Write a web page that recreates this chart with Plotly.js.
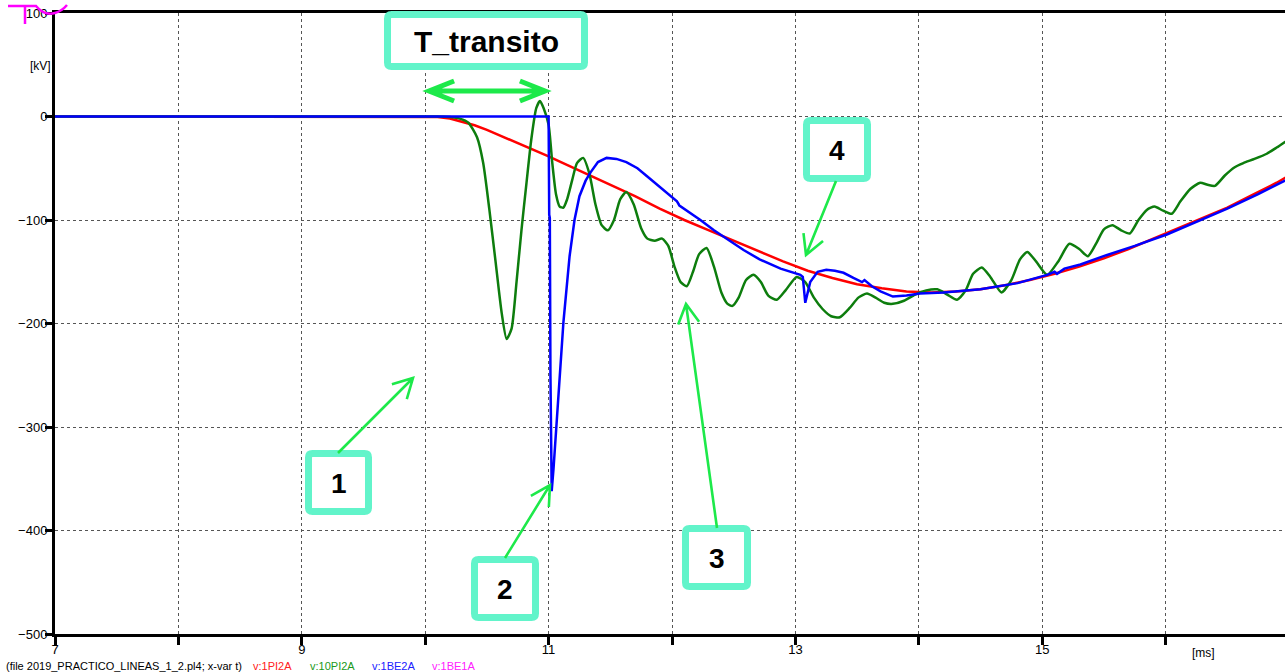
<!DOCTYPE html>
<html>
<head>
<meta charset="utf-8">
<script src="https://cdn.plot.ly/plotly-3.0.1.min.js"></script>
<style>
html,body{margin:0;padding:0;overflow:hidden;background:#fff;}
#chart{width:1292px;height:672px;}
</style>
</head>
<body>
<div id="chart"></div>
<script>
// ---- data (time in ms, voltage in kV) ----
const redT = [7, 10.0, 10.1, 10.2, 10.3, 10.4, 10.5, 10.6, 10.7, 10.8, 10.9, 11.0, 11.1, 11.3, 11.5, 11.7, 11.9, 12.1, 12.3, 12.5, 12.7, 12.9, 13.1, 13.3, 13.5, 13.7, 13.9, 14.1, 14.3, 14.5, 14.7, 14.9, 15.1, 15.3, 15.5, 15.7, 15.9, 16.1, 16.3, 16.5, 16.7, 16.9, 17.0];
const redV = [0, 0, -0.5, -2, -5, -8.5, -13, -18, -23, -28, -33, -38.5, -44, -55, -66, -77, -89, -100, -110, -120, -130, -140, -149, -156, -162, -166, -169, -170, -169, -167, -163, -158, -152, -145, -137, -128, -118, -108, -98, -88, -76, -64, -57];

const greenT = [7, 10.1, 10.2, 10.28, 10.35, 10.42, 10.47, 10.52, 10.57, 10.62, 10.66, 10.70, 10.74, 10.78, 10.82, 10.86, 10.90, 10.93, 10.96, 11.0, 11.03, 11.06, 11.09, 11.12, 11.15, 11.19, 11.23, 11.28, 11.33, 11.38, 11.43, 11.48, 11.53, 11.58, 11.63, 11.69, 11.75, 11.8, 11.86, 11.92, 11.97, 12.02, 12.07, 12.12, 12.17, 12.22, 12.28, 12.34, 12.40, 12.45, 12.49, 12.54, 12.60, 12.66, 12.72, 12.78, 12.85, 12.92, 13.01, 13.08, 13.15, 13.22, 13.29, 13.36, 13.44, 13.51, 13.58, 13.65, 13.72, 13.79, 13.88, 13.97, 14.06, 14.15, 14.23, 14.31, 14.38, 14.44, 14.51, 14.58, 14.67, 14.75, 14.82, 14.88, 14.95, 15.04, 15.13, 15.22, 15.30, 15.37, 15.44, 15.5, 15.57, 15.64, 15.71, 15.78, 15.85, 15.91, 15.98, 16.05, 16.12, 16.2, 16.28, 16.34, 16.40, 16.48, 16.56, 16.63, 16.72, 16.82, 16.9, 17.0];
const greenV = [0, 0, -0.5, -2, -6, -20, -45, -90, -140, -190, -215, -205, -160, -110, -65, -22, 8, 15, 8, -8, -45, -75, -87, -88, -80, -62, -45, -40, -55, -85, -105, -110, -100, -80, -73, -85, -108, -118, -120, -118, -125, -145, -160, -164, -150, -133, -127, -145, -170, -181, -183, -175, -158, -153, -160, -173, -177, -168, -155, -160, -175, -186, -193, -194, -185, -175, -171, -175, -180, -181, -178, -172, -168, -167, -172, -177, -168, -152, -146, -155, -170, -158, -138, -131, -140, -153, -140, -123, -128, -135, -122, -109, -105, -110, -113, -100, -90, -87, -91, -94, -82, -70, -64, -66, -67, -57, -49, -45, -41, -36, -30, -22];

const blueT = [7, 11.0, 11.005, 11.01, 11.015, 11.025, 11.04, 11.065, 11.09, 11.12, 11.17, 11.21, 11.25, 11.3, 11.34, 11.40, 11.47, 11.55, 11.63, 11.72, 11.8, 11.92, 12.04, 12.06, 12.15, 12.23, 12.34, 12.45, 12.58, 12.71, 12.88, 13.04, 13.06, 13.08, 13.12, 13.18, 13.25, 13.32, 13.39, 13.47, 13.54, 13.56, 13.62, 13.69, 13.79, 13.9, 14.01, 14.2, 14.5, 14.8, 15.04, 15.1, 15.12, 15.18, 15.31, 15.52, 15.75, 16.01, 16.25, 16.5, 16.75, 17.0];
const blueV = [0, 0, -95, -98, -250, -362, -340, -296, -245, -199, -135, -100, -77, -62, -54, -44, -40, -41, -44, -50, -58, -70, -82, -86, -93, -100, -110, -119, -129, -138, -147, -153, -155, -180, -160, -150, -148, -149, -151, -156, -160, -158, -164, -169, -174, -173, -171, -170, -167, -161, -153, -150, -152, -147, -143, -134, -125, -114, -102, -89, -75, -60];

const seriesNames = ["v:1PI2A", "v:10PI2A", "v:1BE2A", "v:1BE1A"];
const seriesColors = ["#ff0000", "#0d7d0d", "#0000ff", "#ff00ff"];
const legendColors = ["#ff2020", "#1a9a1a", "#2020ff", "#ff20ff"];
const xTickVals = [7, 8, 9, 10, 11, 12, 13, 14, 15, 16, 17];
const xTickText = ["7", "", "9", "", "11", "", "13", "", "15", "", "17"];
const yTickVals = [-500, -400, -300, -200, -100, 0, 100];
const fileLabel = "(file 2019_PRACTICO_LINEAS_1_2.pl4; x-var t)";
const boxLabels = ["T_transito", "1", "2", "3", "4"];

// ---- geometry helpers (pixel -> paper) ----
const PL = 55, PT = 13, PW = 1234, PH = 621;
const px = x => (x - PL) / PW;
const py = y => (PT + PH - y) / PH;
const P = (x, y) => px(x).toFixed(5) + "," + py(y).toFixed(5);

function roundRect(x0, y0, x1, y1, r) {
  return "M" + P(x0 + r, y0) + " L" + P(x1 - r, y0) + " Q" + P(x1, y0) + " " + P(x1, y0 + r) +
    " L" + P(x1, y1 - r) + " Q" + P(x1, y1) + " " + P(x1 - r, y1) +
    " L" + P(x0 + r, y1) + " Q" + P(x0, y1) + " " + P(x0, y1 - r) +
    " L" + P(x0, y0 + r) + " Q" + P(x0, y0) + " " + P(x0 + r, y0) + " Z";
}
function arrowHead(tx, ty, hx, hy, len, ang) {
  const a = Math.atan2(ty - hy, tx - hx);
  const a1 = a + ang, a2 = a - ang;
  return " M" + P(hx + len * Math.cos(a1), hy + len * Math.sin(a1)) + " L" + P(hx, hy) +
    " L" + P(hx + len * Math.cos(a2), hy + len * Math.sin(a2));
}
function arrow(tx, ty, hx, hy, len, ang) {
  return "M" + P(tx, ty) + " L" + P(hx, hy) + arrowHead(tx, ty, hx, hy, len, ang);
}

const boxColor = "#62f4ca";
const arrowColor = "#1de94a";
const bw = 7;
const boxes = [
  [384, 11, 588, 70],
  [305, 450, 372, 515],
  [471, 556, 539, 621],
  [682, 525, 751, 590],
  [803, 117, 871, 182]
];

const shapes = [];
boxes.forEach(b => {
  shapes.push({
    type: "path", xref: "paper", yref: "paper",
    path: roundRect(b[0] + bw / 2, b[1] + bw / 2, b[2] - bw / 2, b[3] - bw / 2, 4),
    fillcolor: "#ffffff", line: {color: boxColor, width: bw}, layer: "above"
  });
});
// arrows
const thin = {color: arrowColor, width: 2.6};
shapes.push({type: "path", xref: "paper", yref: "paper", path: arrow(338, 453, 413, 378, 22, 0.5), line: thin});
shapes.push({type: "path", xref: "paper", yref: "paper", path: arrow(505, 558, 550, 485, 22, 0.5), line: thin});
shapes.push({type: "path", xref: "paper", yref: "paper", path: arrow(717, 528, 686, 304, 22, 0.5), line: thin});
shapes.push({type: "path", xref: "paper", yref: "paper", path: arrow(836, 181, 806, 255, 22, 0.5), line: thin});
// double arrow T_transito
shapes.push({type: "path", xref: "paper", yref: "paper",
  path: "M" + P(429, 91) + " L" + P(545, 91) + arrowHead(545, 91, 429, 91, 27, 0.38) + arrowHead(429, 91, 545, 91, 27, 0.38),
  line: {color: arrowColor, width: 5}});
// magenta scribble
shapes.push({type: "path", xref: "paper", yref: "paper",
  path: "M" + P(8, 6) + " L" + P(36, 6) + " Q" + P(44, 16) + " " + P(55, 13) + " Q" + P(62, 11) + " " + P(67, 5) +
        " M" + P(25, 6) + " L" + P(25, 24),
  line: {color: "#ff00ff", width: 2.5}});

const annotations = [];
const boxFont = {family: "Liberation Sans, Arial, sans-serif", size: 28, color: "#000"};
boxLabels.forEach((t, i) => {
  const b = boxes[i];
  annotations.push({
    xref: "paper", yref: "paper", x: px((b[0] + b[2]) / 2), y: py((b[1] + b[3]) / 2 + 1),
    text: "<b>" + t + "</b>", showarrow: false, xanchor: "center", yanchor: "middle",
    font: i === 0 ? {family: boxFont.family, size: 30, color: "#000"} : boxFont
  });
});
const smallFont = {family: "Liberation Sans, Arial, sans-serif", size: 11, color: "#000"};
annotations.push({xref: "paper", yref: "paper", x: px(53), y: py(66), text: "[kV]", showarrow: false,
  xanchor: "right", yanchor: "middle", font: {family: "Liberation Sans, Arial, sans-serif", size: 12, color: "#000"}});
annotations.push({xref: "paper", yref: "paper", x: px(1190), y: py(653), text: "[ms]", showarrow: false,
  xanchor: "left", yanchor: "middle", font: {family: "Liberation Sans, Arial, sans-serif", size: 12, color: "#000"}});
annotations.push({xref: "paper", yref: "paper", x: px(4), y: py(666), text: fileLabel, showarrow: false,
  xanchor: "left", yanchor: "middle", font: smallFont});
const legendX = [251, 308, 370, 430];
seriesNames.forEach((n, i) => {
  annotations.push({xref: "paper", yref: "paper", x: px(legendX[i]), y: py(666), text: n, showarrow: false,
    xanchor: "left", yanchor: "middle", font: {family: "Liberation Sans, Arial, sans-serif", size: 11, color: legendColors[i]}});
});

const traces = [
  {x: redT, y: redV, name: seriesNames[0], mode: "lines", line: {color: seriesColors[0], width: 2.5}},
  {x: greenT, y: greenV, name: seriesNames[1], mode: "lines", line: {color: seriesColors[1], width: 2.5, shape: "spline", smoothing: 0.6}},
  {x: blueT, y: blueV, name: seriesNames[2], mode: "lines", line: {color: seriesColors[2], width: 2.5}}
];

const tickFont = {family: "Liberation Sans, Arial, sans-serif", size: 13, color: "#000"};
const layout = {
  width: 1292, height: 672,
  margin: {l: PL, r: 1292 - PL - PW, t: PT, b: 672 - PT - PH, pad: 0},
  paper_bgcolor: "#fff", plot_bgcolor: "#fff",
  showlegend: false,
  xaxis: {
    range: [7, 17], tickvals: xTickVals, ticktext: xTickText, ticks: "outside", ticklen: 8, tickwidth: 3,
    tickcolor: "#000", showline: true, linewidth: 3, linecolor: "#000", mirror: true, ticklabelstandoff: -7,
    showgrid: true, gridcolor: "#555", griddash: "dot", gridwidth: 1, zeroline: false, tickfont: tickFont
  },
  yaxis: {
    range: [-500, 100], tickvals: yTickVals, ticks: "outside", ticklen: 7, tickwidth: 3,
    tickcolor: "#000", showline: true, linewidth: 3, linecolor: "#000", mirror: true, ticklabelstandoff: -5,
    showgrid: true, gridcolor: "#555", griddash: "dot", gridwidth: 1, zeroline: false, tickfont: tickFont
  },
  shapes: shapes,
  annotations: annotations
};

Plotly.newPlot("chart", traces, layout, {displayModeBar: false, staticPlot: true});
</script>
</body>
</html>
